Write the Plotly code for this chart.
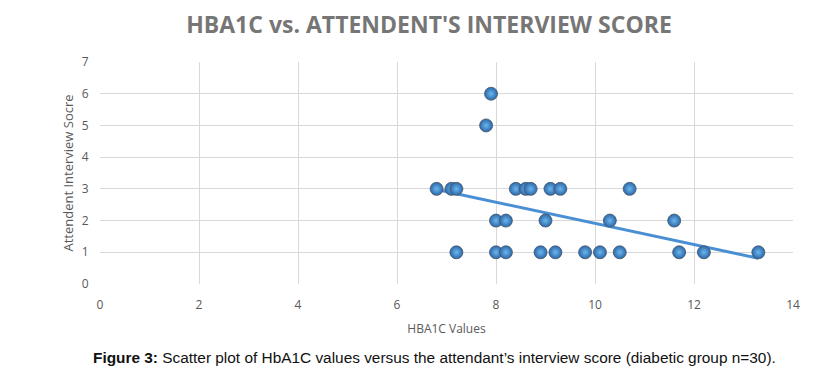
import numpy as np
import plotly.graph_objects as go

# HbA1C values (x) and attendant interview scores (y)
hba1c = [6.8, 7.1, 7.2, 8.4, 8.6, 8.7, 9.1, 9.3, 10.7,
         7.9,
         7.8,
         8.0, 8.2, 9.0, 10.3, 11.6,
         7.2, 8.0, 8.2, 8.9, 9.2, 9.8, 10.1, 10.5, 11.7, 12.2, 13.3]
score = [3, 3, 3, 3, 3, 3, 3, 3, 3,
         6,
         5,
         2, 2, 2, 2, 2,
         1, 1, 1, 1, 1, 1, 1, 1, 1, 1, 1]

x_ticks = [0, 2, 4, 6, 8, 10, 12, 14]
y_ticks = [0, 1, 2, 3, 4, 5, 6, 7]

title_text = "HBA1C vs. ATTENDENT'S INTERVIEW SCORE"
x_title = "HBA1C Values"
y_title = "Attendent Interview Socre"
caption = ("<b>Figure 3:</b> Scatter plot of HbA1C values versus the attendant\u2019s "
           "interview score (diabetic group n=30).")

# linear trendline (least squares)
slope, intercept = np.polyfit(hba1c, score, 1)
tx = [min(hba1c), max(hba1c)]
ty = [slope * v + intercept for v in tx]

fig = go.Figure()
fig.add_trace(go.Scatter(
    x=tx, y=ty, mode="lines",
    line=dict(color="#4a8fd4", width=3),
    hoverinfo="skip", showlegend=False))
fig.add_trace(go.Scatter(
    x=hba1c, y=score, mode="markers",
    marker=dict(size=13, color="#2a69ac",
                gradient=dict(type="radial", color="#6db5ec"),
                line=dict(color="#4a5664", width=0.8)),
    showlegend=False))

grid = "#d9d9d9"
tickfont = dict(family="Open Sans, Liberation Sans, sans-serif", size=12, color="#595959")
# page body adds 8px offset; figure sized to fit the window
W, H = 822, 365
L, R, T, B = 92, 37, 54, 89
plot_w = W - L - R
plot_h = H - T - B

fig.update_layout(
    width=W, height=H,
    margin=dict(l=L, r=R, t=T, b=B),
    paper_bgcolor="white", plot_bgcolor="white",
    title=dict(text="<b>" + title_text + "</b>", x=(429 - 8) / W, xanchor="center",
               y=1 - (25 - 8) / H, yanchor="middle",
               font=dict(family="Open Sans, sans-serif", size=23, color="#767676")),
    xaxis=dict(range=[0, 14], tickvals=x_ticks, showgrid=True, gridcolor=grid,
               zeroline=False, showline=False, ticks="outside", ticklen=10,
               tickcolor="rgba(0,0,0,0)", tickfont=tickfont,
               title=dict(text=x_title, standoff=12,
                          font=dict(family="Open Sans, sans-serif", size=12, color="#595959"))),
    yaxis=dict(range=[0, 7], tickvals=y_ticks, showgrid=True, gridcolor=grid,
               zeroline=False, showline=False, ticks="outside", ticklen=8,
               tickcolor="rgba(0,0,0,0)", tickfont=tickfont,
               title=dict(text=y_title, standoff=5,
                          font=dict(family="Open Sans, sans-serif", size=13, color="#595959"))),
    annotations=[dict(text=caption,
                      x=(434 - 100) / plot_w, xref="paper", xanchor="center",
                      y=-(357 - 284) / plot_h, yref="paper", yanchor="middle",
                      showarrow=False,
                      font=dict(family="Liberation Sans, Arial, sans-serif", size=15.4, color="#111111"))],
)

fig.write_html("out.html")
